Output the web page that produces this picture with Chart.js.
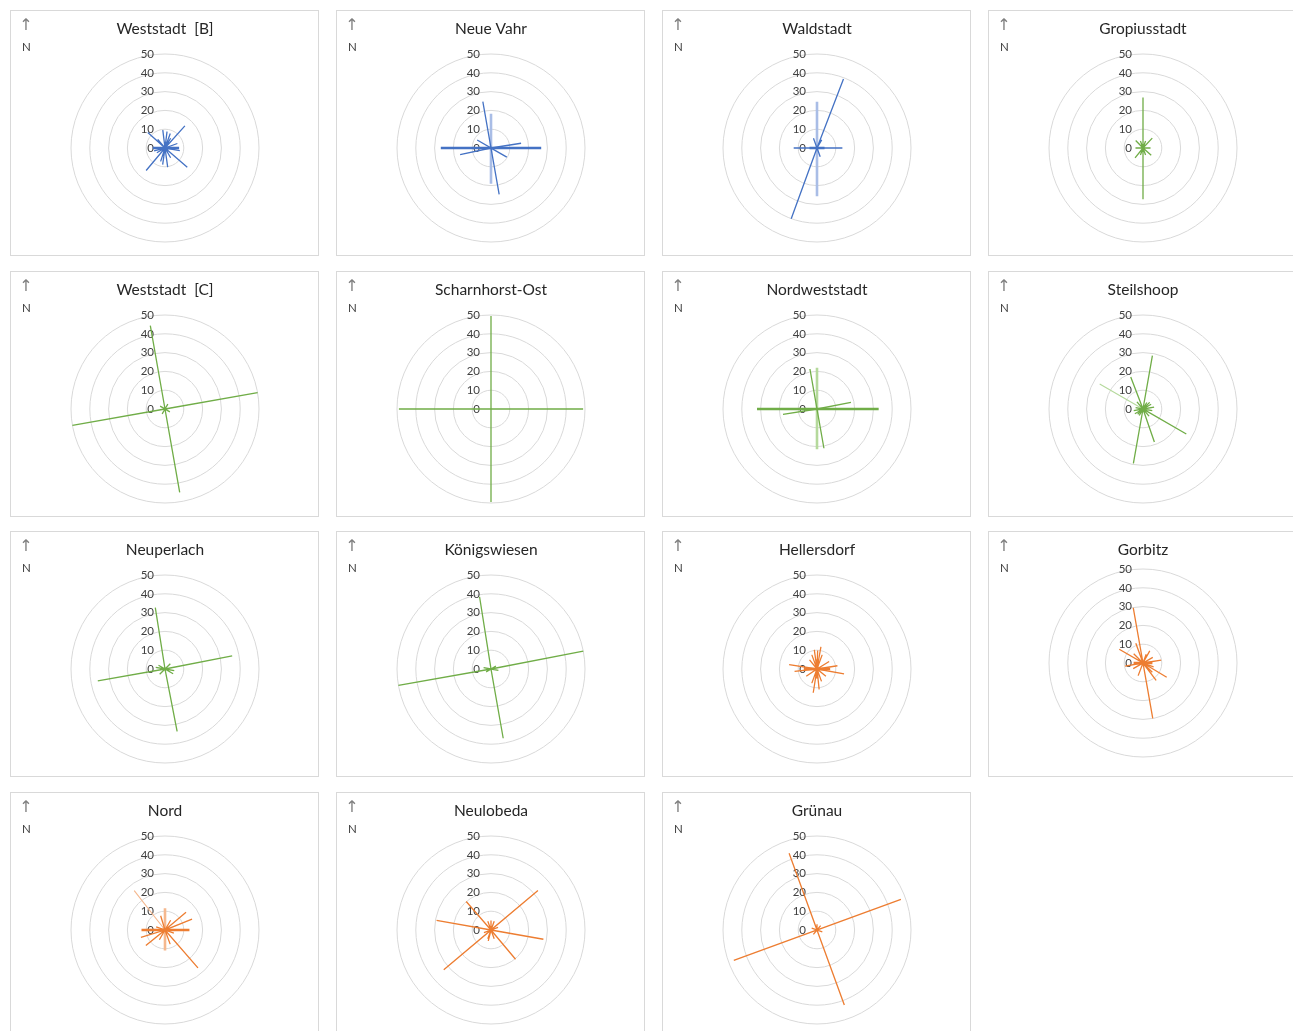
<!DOCTYPE html>
<html>
<head>
<meta charset="utf-8">
<script src="https://cdn.jsdelivr.net/npm/chart.js@4.4.1/dist/chart.umd.min.js"></script>
<style>
  body { margin: 0; background: #fff; overflow: hidden; width: 1293px; height: 1031px; position: relative; }
  .panel { position: absolute; width: 309px; height: 246px; box-sizing: border-box; border: 1px solid #d9d9d9; background: #fff; }
  .panel canvas { position: absolute; left: 0; top: 0; }
</style>
</head>
<body>
<div id="grid"></div>
<script>
// spikes: degrees clockwise from north, and street counts
const westBDeg = [42, 220, 131, 312, 353, 7, 20, 172, 188, 198, 100, 255, 70, 320, 150, 240, 30];
const westBVal = [15.8, 15.6, 15.7, 12.3, 9.6, 8.8, 8.2, 10.3, 8.9, 7.5, 8, 6, 7, 6, 6, 5, 6];
const westBHeavyDeg = [90, 270];
const westBHeavyVal = [7.5, 6.5];

const vahrDeg = [350, 170, 81, 258, 300, 120];
const vahrVal = [25, 25, 16.2, 16.8, 8.5, 9.7];
const vahrHeavyDeg = [90, 270];
const vahrHeavyVal = [26.7, 26.7];
const vahrPaleDeg = [0, 180];
const vahrPaleVal = [18.2, 19];

const waldDeg = [21, 200, 90, 270, 340, 160, 30];
const waldVal = [39.3, 40.1, 13.5, 12.4, 5.5, 5, 5];
const waldHeavyDeg = [90, 270];
const waldHeavyVal = [4, 4];
const waldPaleDeg = [0, 180];
const waldPaleVal = [24.6, 25.6];

const gropDeg = [0, 180, 43, 219, 316, 131, 90, 270, 20, 200, 160, 340];
const gropVal = [26.8, 27.2, 7.2, 6.7, 5.6, 5.8, 4, 4, 4, 4, 4, 4];

const westCDeg = [80, 260, 350, 170, 30, 210, 120, 300];
const westCVal = [50, 50, 45, 45, 3, 3, 3, 3];

const scharnDeg = [0, 180, 90, 270];
const scharnVal = [49.5, 49.5, 49, 49];

const nwDeg = [350, 170, 79, 261];
const nwVal = [21.6, 21.2, 18.4, 18.3];
const nwHeavyDeg = [90, 270];
const nwHeavyVal = [32.8, 31.9];
const nwPaleDeg = [0, 180];
const nwPaleVal = [21.9, 21.4];

const steilDeg = [10, 190, 339, 161, 120, 60, 240, 80, 260, 100, 280, 30, 210, 140, 320, 45, 225];
const steilVal = [28.8, 29.4, 18.2, 18.6, 26.6, 5, 5, 6, 5, 5, 4, 4, 4, 5, 5, 5, 4];
const steilFaintDeg = [300];
const steilFaintVal = [26.6];

const perlachDeg = [351, 169, 79, 260, 45, 225, 120, 300, 100, 280];
const perlachVal = [33, 33.8, 36.4, 36.3, 4, 4, 5, 4, 5, 5];

const koenigDeg = [351, 170, 79, 260, 100, 280, 60, 240];
const koenigVal = [38.9, 37.4, 50, 50, 4, 4, 3, 3];

const hellDeg = [10, 352, 2, 189, 174, 100, 81, 279, 264, 58, 236, 321, 129, 20, 200, 160, 340];
const hellVal = [12, 10.3, 9.8, 12.8, 10.9, 14.6, 11, 15, 12, 7.6, 6.9, 6.3, 6.1, 8, 8, 7, 8];
const hellHeavyDeg = [90, 270, 0, 180];
const hellHeavyVal = [7, 7, 5, 5];

const gorbDeg = [350, 170, 300, 121, 340, 143, 81, 260, 29, 201, 60, 240, 110, 315, 135, 20];
const gorbVal = [29.8, 29.9, 14.6, 14.7, 11.2, 11.6, 9.8, 9.7, 7.4, 7.2, 6, 6, 6, 7, 7, 5];
const gorbHeavyDeg = [90, 270];
const gorbHeavyVal = [5, 5];

const nordDeg = [139, 50, 231, 68, 253, 343, 160, 30, 210, 110, 290];
const nordVal = [26.7, 14.6, 13.1, 15.5, 13.4, 7.9, 8, 6, 6, 5, 5];
const nordHeavyDeg = [90, 270];
const nordHeavyVal = [13, 12.5];
const nordPaleDeg = [0, 180];
const nordPaleVal = [11.6, 10.9];
const nordFaintDeg = [322];
const nordFaintVal = [26.6];

const lobedaDeg = [50, 230, 280, 100, 319, 140, 0, 194, 20, 200, 160, 340, 70, 250];
const lobedaVal = [32.6, 32.8, 29.4, 28.3, 20.1, 20.3, 5, 6, 5, 5, 5, 5, 4, 4];

const gruenauDeg = [340, 160, 70, 250, 40, 220, 110, 290, 0];
const gruenauVal = [43.4, 42.5, 47.5, 47.1, 3, 3, 3, 3, 3];

const tickValues = [0, 10, 20, 30, 40, 50];

const BLUE = ['#4472c4', '#a9bde6'];
const GREEN = ['#70ad47', '#b5d99c'];
const ORANGE = ['#ed7d31', '#f5b88e'];

const panels = [
  { title: 'Weststadt  [B]', color: BLUE, layers: [['heavy', westBHeavyDeg, westBHeavyVal], ['main', westBDeg, westBVal]] },
  { title: 'Neue Vahr', color: BLUE, layers: [['heavy', vahrHeavyDeg, vahrHeavyVal], ['main', vahrDeg, vahrVal], ['pale', vahrPaleDeg, vahrPaleVal]] },
  { title: 'Waldstadt', color: BLUE, layers: [['heavy', waldHeavyDeg, waldHeavyVal], ['main', waldDeg, waldVal], ['pale', waldPaleDeg, waldPaleVal]] },
  { title: 'Gropiusstadt', color: GREEN, layers: [['main', gropDeg, gropVal]] },
  { title: 'Weststadt  [C]', color: GREEN, layers: [['main', westCDeg, westCVal]] },
  { title: 'Scharnhorst-Ost', color: GREEN, layers: [['main', scharnDeg, scharnVal]] },
  { title: 'Nordweststadt', color: GREEN, layers: [['heavy', nwHeavyDeg, nwHeavyVal], ['main', nwDeg, nwVal], ['pale', nwPaleDeg, nwPaleVal]] },
  { title: 'Steilshoop', color: GREEN, layers: [['main', steilDeg, steilVal], ['faint', steilFaintDeg, steilFaintVal]] },
  { title: 'Neuperlach', color: GREEN, layers: [['main', perlachDeg, perlachVal]] },
  { title: 'Königswiesen', color: GREEN, layers: [['main', koenigDeg, koenigVal]] },
  { title: 'Hellersdorf', color: ORANGE, layers: [['heavy', hellHeavyDeg, hellHeavyVal], ['main', hellDeg, hellVal]] },
  { title: 'Gorbitz', color: ORANGE, shift: 6, layers: [['heavy', gorbHeavyDeg, gorbHeavyVal], ['main', gorbDeg, gorbVal]] },
  { title: 'Nord', color: ORANGE, layers: [['heavy', nordHeavyDeg, nordHeavyVal], ['main', nordDeg, nordVal], ['pale', nordPaleDeg, nordPaleVal], ['faint', nordFaintDeg, nordFaintVal]] },
  { title: 'Neulobeda', color: ORANGE, layers: [['main', lobedaDeg, lobedaVal]] },
  { title: 'Grünau', color: ORANGE, layers: [['main', gruenauDeg, gruenauVal]] }
];

const colX = [10, 336, 662, 988];
const rowY = [10, 271, 531, 792];
const degLabels = Array.from({ length: 360 }, (_, i) => String(i));

function spikes(deg, val) {
  const d = new Array(360).fill(0);
  deg.forEach((a, i) => { d[a % 360] = val[i]; });
  return d;
}

function lineStyle(kind, color) {
  if (kind === 'heavy') return { borderColor: color[0], borderWidth: 2.4 };
  if (kind === 'pale') return { borderColor: color[1], borderWidth: 2.6 };
  if (kind === 'faint') return { borderColor: color[1], borderWidth: 1.1 };
  return { borderColor: color[0], borderWidth: 1.3 };
}

// value labels on the north axis (Chart.js skips the 0 label itself)
const radialLabels = {
  id: 'radialLabels',
  beforeDatasetsDraw(chart) {
    const r = chart.scales.r, ctx = chart.ctx;
    ctx.save();
    ctx.font = '11.5px Lato';
    ctx.fillStyle = '#404040';
    ctx.textAlign = 'right';
    ctx.textBaseline = 'middle';
    tickValues.forEach(v => {
      ctx.fillText(String(v), r.xCenter - 11, r.yCenter - r.getDistanceFromCenterForValue(v));
    });
    ctx.restore();
  },
  afterDraw(chart) {
    const ctx = chart.ctx;
    ctx.save();
    ctx.textAlign = 'center';
    ctx.textBaseline = 'middle';
    ctx.fillStyle = '#7f7f7f';
    ctx.font = '16px "DejaVu Sans"';
    ctx.fillText('↑', 15, 15);
    ctx.fillStyle = '#404040';
    ctx.font = '11.5px Lato';
    ctx.fillText('N', 15.5, 36);
    ctx.restore();
  }
};

const grid = document.getElementById('grid');
panels.forEach((p, i) => {
  const div = document.createElement('div');
  div.className = 'panel';
  div.style.left = colX[i % 4] + 'px';
  div.style.top = rowY[Math.floor(i / 4)] + 'px';
  const cv = document.createElement('canvas');
  cv.width = 307; cv.height = 244;
  cv.style.width = '307px'; cv.style.height = '244px';
  div.appendChild(cv);
  grid.appendChild(div);

  const shift = p.shift || 0;
  new Chart(cv, {
    type: 'radar',
    data: {
      labels: degLabels,
      datasets: p.layers.map(([kind, deg, val]) => Object.assign({
        data: spikes(deg, val),
        fill: false,
        pointRadius: 0,
        tension: 0
      }, lineStyle(kind, p.color)))
    },
    options: {
      responsive: false,
      animation: false,
      layout: { padding: { left: 59, right: 58, top: 0, bottom: 12 + shift } },
      plugins: {
        legend: { display: false },
        tooltip: { enabled: false },
        title: {
          display: true,
          text: p.title,
          color: '#262626',
          font: { family: 'Lato', size: 15.5, weight: 'normal' },
          padding: { top: 9, bottom: 15 - shift }
        }
      },
      scales: {
        r: {
          min: 0,
          max: 50,
          ticks: { stepSize: 10, display: false },
          grid: { circular: true, color: '#d9d9d9', lineWidth: 1 },
          angleLines: { display: false },
          pointLabels: { display: false }
        }
      }
    },
    plugins: [radialLabels]
  });
});
</script>
</body>
</html>
